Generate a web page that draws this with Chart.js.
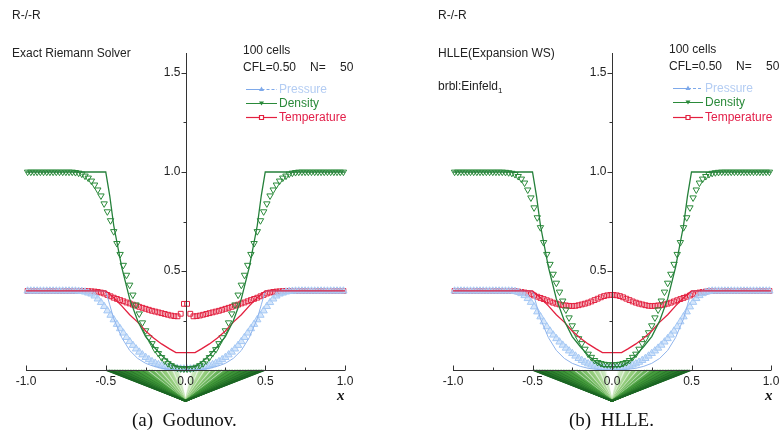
<!DOCTYPE html>
<html>
<head>
<meta charset="utf-8">
<script src="https://cdn.jsdelivr.net/npm/chart.js@4.4.9/dist/chart.umd.min.js"></script>
<style>
  body { margin: 0; background: #fff; }
  #page { position: relative; width: 781px; height: 443px; overflow: hidden;
          font-family: "Liberation Sans", Arial, sans-serif; color: #222; }
  canvas { position: absolute; top: 0; }
  #leftChart { left: 0; }
  #rightChart { left: 390px; }
  .t { position: absolute; font-size: 12px; line-height: 12px; white-space: pre; }
  .cap { position: absolute; font-family: "Liberation Serif", "Times New Roman", serif;
         font-size: 19px; line-height: 19px; color: #111; white-space: pre; }
  .xlab { position: absolute; font-family: "Liberation Serif", serif; font-style: italic;
          font-weight: bold; font-size: 15px; line-height: 15px; color: #111; }
</style>
</head>
<body>
<div id="page">
  <canvas id="leftChart" width="390" height="443"></canvas>
  <canvas id="rightChart" width="391" height="443"></canvas>

  <div class="t" style="left:12px;top:9px;">R-/-R</div>
  <div class="t" style="left:12px;top:47px;">Exact Riemann Solver</div>
  <div class="t" style="left:243px;top:44px;">100 cells</div>
  <div class="t" style="left:243px;top:61px;">CFL=0.50</div>
  <div class="t" style="left:310px;top:61px;">N=</div>
  <div class="t" style="left:340px;top:61px;">50</div>
  <div class="t" style="left:279px;top:83px;color:#b4cdf3;">Pressure</div>
  <div class="t" style="left:279px;top:97px;color:#2a8a3a;">Density</div>
  <div class="t" style="left:279px;top:111px;color:#e3204a;">Temperature</div>
  <div class="xlab" style="left:337px;top:388px;">x</div>
  <div class="cap" style="left:132px;top:410px;">(a)  Godunov.</div>

  <div class="t" style="left:438px;top:9px;">R-/-R</div>
  <div class="t" style="left:438px;top:47px;">HLLE(Expansion WS)</div>
  <div class="t" style="left:438px;top:80px;">brbl:Einfeld<sub style="font-size:8px;">1</sub></div>
  <div class="t" style="left:669px;top:43px;">100 cells</div>
  <div class="t" style="left:669px;top:60px;">CFL=0.50</div>
  <div class="t" style="left:736px;top:60px;">N=</div>
  <div class="t" style="left:766px;top:60px;">50</div>
  <div class="t" style="left:705px;top:82px;color:#b4cdf3;">Pressure</div>
  <div class="t" style="left:705px;top:96px;color:#2a8a3a;">Density</div>
  <div class="t" style="left:705px;top:111px;color:#e3204a;">Temperature</div>
  <div class="xlab" style="left:765px;top:388px;">x</div>
  <div class="cap" style="left:569px;top:410px;">(b)  HLLE.</div>
</div>

<script>
// cell centres, 100 cells on [-1, 1]
const cellX = [
  -0.99, -0.97, -0.95, -0.93, -0.91, -0.89, -0.87, -0.85, -0.83, -0.81,
  -0.79, -0.77, -0.75, -0.73, -0.71, -0.69, -0.67, -0.65, -0.63, -0.61,
  -0.59, -0.57, -0.55, -0.53, -0.51, -0.49, -0.47, -0.45, -0.43, -0.41,
  -0.39, -0.37, -0.35, -0.33, -0.31, -0.29, -0.27, -0.25, -0.23, -0.21,
  -0.19, -0.17, -0.15, -0.13, -0.11, -0.09, -0.07, -0.05, -0.03, -0.01,
  0.01, 0.03, 0.05, 0.07, 0.09, 0.11, 0.13, 0.15, 0.17, 0.19,
  0.21, 0.23, 0.25, 0.27, 0.29, 0.31, 0.33, 0.35, 0.37, 0.39,
  0.41, 0.43, 0.45, 0.47, 0.49, 0.51, 0.53, 0.55, 0.57, 0.59,
  0.61, 0.63, 0.65, 0.67, 0.69, 0.71, 0.73, 0.75, 0.77, 0.79,
  0.81, 0.83, 0.85, 0.87, 0.89, 0.91, 0.93, 0.95, 0.97, 0.99
];

// (a) Godunov
const godDensity = [
  1, 1, 1, 1, 1, 1, 1, 1, 1, 1,
  1, 1, 1, 1, 1, 0.998, 0.995, 0.99, 0.98, 0.97,
  0.955, 0.935, 0.91, 0.88, 0.84, 0.80, 0.755, 0.70, 0.64, 0.585,
  0.53, 0.48, 0.43, 0.38, 0.33, 0.285, 0.24, 0.20, 0.165, 0.135,
  0.105, 0.085, 0.065, 0.048, 0.034, 0.024, 0.016, 0.011, 0.008, 0.007,
  0.007, 0.008, 0.011, 0.016, 0.024, 0.034, 0.048, 0.065, 0.085, 0.105,
  0.135, 0.165, 0.20, 0.24, 0.285, 0.33, 0.38, 0.43, 0.48, 0.53,
  0.585, 0.64, 0.70, 0.755, 0.80, 0.84, 0.88, 0.91, 0.935, 0.955,
  0.97, 0.98, 0.99, 0.995, 0.998, 1, 1, 1, 1, 1,
  1, 1, 1, 1, 1, 1, 1, 1, 1, 1
];
const godTemperature = [
  0.4, 0.4, 0.4, 0.4, 0.4, 0.4, 0.4, 0.4, 0.4, 0.4,
  0.4, 0.4, 0.4, 0.4, 0.4, 0.4, 0.4, 0.4, 0.4, 0.399,
  0.398, 0.397, 0.395, 0.392, 0.387, 0.38, 0.373, 0.366, 0.36, 0.354,
  0.348, 0.342, 0.337, 0.331, 0.326, 0.32, 0.315, 0.31, 0.305, 0.3,
  0.296, 0.292, 0.288, 0.284, 0.28, 0.276, 0.273, 0.272, 0.285, 0.335,
  0.335, 0.285, 0.272, 0.273, 0.276, 0.28, 0.284, 0.288, 0.292, 0.296,
  0.3, 0.305, 0.31, 0.315, 0.32, 0.326, 0.331, 0.337, 0.342, 0.348,
  0.354, 0.36, 0.366, 0.373, 0.38, 0.387, 0.392, 0.395, 0.397, 0.398,
  0.399, 0.4, 0.4, 0.4, 0.4, 0.4, 0.4, 0.4, 0.4, 0.4,
  0.4, 0.4, 0.4, 0.4, 0.4, 0.4, 0.4, 0.4, 0.4, 0.4
];
const godPressure = [
  0.4, 0.4, 0.4, 0.4, 0.4, 0.4, 0.4, 0.4, 0.4, 0.4,
  0.4, 0.4, 0.4, 0.4, 0.4, 0.4, 0.399, 0.398, 0.395, 0.39,
  0.385, 0.375, 0.36, 0.342, 0.322, 0.30, 0.278, 0.255, 0.232, 0.21,
  0.188, 0.166, 0.145, 0.126, 0.108, 0.092, 0.078, 0.065, 0.054, 0.044,
  0.036, 0.029, 0.023, 0.018, 0.014, 0.011, 0.009, 0.008, 0.007, 0.007,
  0.007, 0.007, 0.008, 0.009, 0.011, 0.014, 0.018, 0.023, 0.029, 0.036,
  0.044, 0.054, 0.065, 0.078, 0.092, 0.108, 0.126, 0.145, 0.166, 0.188,
  0.21, 0.232, 0.255, 0.278, 0.30, 0.322, 0.342, 0.36, 0.375, 0.385,
  0.39, 0.395, 0.398, 0.399, 0.4, 0.4, 0.4, 0.4, 0.4, 0.4,
  0.4, 0.4, 0.4, 0.4, 0.4, 0.4, 0.4, 0.4, 0.4, 0.4
];

// (b) HLLE
const hlleDensity = [
  1, 1, 1, 1, 1, 1, 1, 1, 1, 1,
  1, 1, 1, 1, 1, 1, 0.999, 0.997, 0.994, 0.988,
  0.978, 0.965, 0.945, 0.91, 0.87, 0.82, 0.77, 0.72, 0.645, 0.585,
  0.535, 0.485, 0.44, 0.395, 0.35, 0.305, 0.265, 0.225, 0.19, 0.16,
  0.135, 0.107, 0.082, 0.066, 0.05, 0.04, 0.035, 0.031, 0.029, 0.028,
  0.028, 0.029, 0.031, 0.035, 0.04, 0.05, 0.066, 0.082, 0.107, 0.135,
  0.16, 0.19, 0.225, 0.265, 0.305, 0.35, 0.395, 0.44, 0.485, 0.535,
  0.585, 0.645, 0.72, 0.77, 0.82, 0.87, 0.91, 0.945, 0.965, 0.978,
  0.988, 0.994, 0.997, 0.999, 1, 1, 1, 1, 1, 1,
  1, 1, 1, 1, 1, 1, 1, 1, 1, 1
];
const hlleTemperature = [
  0.4, 0.4, 0.4, 0.4, 0.4, 0.4, 0.4, 0.4, 0.4, 0.4,
  0.4, 0.4, 0.4, 0.4, 0.4, 0.4, 0.4, 0.4, 0.4, 0.399,
  0.397, 0.395, 0.392, 0.388, 0.383, 0.377, 0.371, 0.365, 0.359, 0.353,
  0.347, 0.341, 0.336, 0.332, 0.329, 0.327, 0.325, 0.324, 0.325, 0.328,
  0.332, 0.336, 0.341, 0.347, 0.354, 0.361, 0.368, 0.374, 0.378, 0.38,
  0.38, 0.378, 0.374, 0.368, 0.361, 0.354, 0.347, 0.341, 0.336, 0.332,
  0.328, 0.325, 0.324, 0.325, 0.327, 0.329, 0.332, 0.336, 0.341, 0.347,
  0.353, 0.359, 0.365, 0.371, 0.377, 0.383, 0.388, 0.392, 0.395, 0.397,
  0.399, 0.4, 0.4, 0.4, 0.4, 0.4, 0.4, 0.4, 0.4, 0.4,
  0.4, 0.4, 0.4, 0.4, 0.4, 0.4, 0.4, 0.4, 0.4, 0.4
];
const hllePressure = [
  0.4, 0.4, 0.4, 0.4, 0.4, 0.4, 0.4, 0.4, 0.4, 0.4,
  0.4, 0.4, 0.4, 0.4, 0.4, 0.4, 0.4, 0.4, 0.4, 0.398,
  0.394, 0.387, 0.377, 0.362, 0.343, 0.32, 0.295, 0.27, 0.245, 0.22,
  0.198, 0.178, 0.16, 0.143, 0.127, 0.112, 0.098, 0.085, 0.072, 0.06,
  0.05, 0.041, 0.033, 0.027, 0.022, 0.018, 0.015, 0.013, 0.012, 0.012,
  0.012, 0.012, 0.013, 0.015, 0.018, 0.022, 0.027, 0.033, 0.041, 0.05,
  0.06, 0.072, 0.085, 0.098, 0.112, 0.127, 0.143, 0.16, 0.178, 0.198,
  0.22, 0.245, 0.27, 0.295, 0.32, 0.343, 0.362, 0.377, 0.387, 0.394,
  0.398, 0.4, 0.4, 0.4, 0.4, 0.4, 0.4, 0.4, 0.4, 0.4,
  0.4, 0.4, 0.4, 0.4, 0.4, 0.4, 0.4, 0.4, 0.4, 0.4
];

// exact solution (solid lines), same in both panels
const exactX = [-1, -0.5, -0.475, -0.45, -0.4, -0.35, -0.3, -0.25, -0.2, -0.15, -0.1, -0.06, -0.05, 0,
                0.05, 0.06, 0.1, 0.15, 0.2, 0.25, 0.3, 0.35, 0.4, 0.45, 0.475, 0.5, 1];
const exactDensity = [1, 1, 0.88, 0.73, 0.52, 0.36, 0.25, 0.17, 0.12, 0.075, 0.04, 0.02, 0.018, 0.018,
                      0.018, 0.02, 0.04, 0.075, 0.12, 0.17, 0.25, 0.36, 0.52, 0.73, 0.88, 1, 1];
const exactTemperature = [0.4, 0.4, 0.383, 0.366, 0.325, 0.28, 0.243, 0.198, 0.163, 0.133, 0.108, 0.089, 0.089, 0.089,
                          0.089, 0.089, 0.108, 0.133, 0.163, 0.198, 0.243, 0.28, 0.325, 0.366, 0.383, 0.4, 0.4];
const exactPressure = [0.4, 0.4, 0.33, 0.26, 0.165, 0.1, 0.06, 0.035, 0.02, 0.01, 0.005, 0.002, 0.002, 0.002,
                       0.002, 0.002, 0.005, 0.01, 0.02, 0.035, 0.06, 0.1, 0.165, 0.26, 0.33, 0.4, 0.4];

// wave fan under the axis: rays from the apex to +/- each foot position on the x axis
const fanApexY = -0.155;
const fanFootX = [
  0.5, 0.49, 0.48, 0.47, 0.46, 0.45, 0.44, 0.43, 0.42, 0.41,
  0.4, 0.39, 0.38, 0.37, 0.36, 0.35, 0.34, 0.33, 0.32, 0.31,
  0.3, 0.29, 0.28, 0.27, 0.26, 0.25, 0.24, 0.23, 0.22, 0.21,
  0.2, 0.19, 0.18, 0.17, 0.16, 0.15, 0.14, 0.13, 0.12, 0.11,
  0.1, 0.09, 0.08, 0.07, 0.06, 0.05, 0.04
];

const xMajor = [-1, -0.5, 0, 0.5, 1];
const xMinor = [-0.75, -0.25, 0.25, 0.75];
const xTickLabels = ["-1.0", "-0.5", "0.0", "0.5", "1.0"];
const yMajor = [0.5, 1.0, 1.5];
const yMinor = [0.25, 0.75, 1.25];
const yTickLabels = ["0.5", "1.0", "1.5"];

const GREEN = "#2a8a3a";
const RED = "#e3203f";
const BLUE = "#a5c8f4";

const pts = (xs, ys) => xs.map((x, i) => ({ x: x, y: ys[i] }));

// ray shade: dark green outside, bright green in the middle, pale green near the centre
function rayShade(w, i) {
  const t = Math.min(1, Math.max(0, (0.5 - w) / 0.46));
  const stops = [[0, [28, 106, 36]], [0.45, [70, 160, 62]], [0.8, [150, 205, 125]], [1, [215, 238, 205]]];
  let k = 0;
  while (k < stops.length - 2 && t > stops[k + 1][0]) k++;
  const [t0, c0] = stops[k], [t1, c1] = stops[k + 1];
  const f = (t - t0) / (t1 - t0);
  let c = c0.map((v, j) => v + (c1[j] - v) * f);
  if (i % 4 === 2) c = c.map(v => t > 0.55 ? v + (255 - v) * 0.6 : v * 0.8);
  return "rgb(" + c.map(Math.round).join(",") + ")";
}

function panelDatasets(dens, temp, pres) {
  const sets = [];
  fanFootX.forEach((w, i) => {
    [-w, w].forEach(fx => {
      sets.push({ data: [{ x: 0, y: fanApexY }, { x: fx, y: 0 }], fill: false, pointRadius: 0,
                  borderWidth: i === 0 ? 1.2 : 1.8, borderColor: i === 0 ? "#1a6423" : rayShade(w, i),
                  borderCapStyle: "butt", order: 40 + i });
    });
  });
  sets.push({ data: pts(cellX, temp), showLine: false, pointStyle: "rect", pointRadius: 3.4,
              borderColor: RED, backgroundColor: "rgba(255,255,255,0)", pointBorderWidth: 1, order: 8 });
  sets.push({ data: pts(cellX, pres), showLine: false, pointStyle: "triangle", pointRadius: 4.2,
              borderColor: BLUE, backgroundColor: "rgba(185,214,248,0.6)", pointBorderWidth: 1, order: 7 });
  sets.push({ data: pts(cellX, dens), showLine: false, pointStyle: "triangle", rotation: 180, pointRadius: 3.7,
              borderColor: GREEN, backgroundColor: "rgba(255,255,255,0)", pointBorderWidth: 1, order: 6 });
  sets.push({ data: pts(exactX, exactPressure), borderColor: "#8fb4ec", borderWidth: 1, pointRadius: 0, fill: false, order: 3 });
  sets.push({ data: pts(exactX, exactTemperature), borderColor: RED, borderWidth: 1.3, pointRadius: 0, fill: false, order: 2 });
  sets.push({ data: pts(exactX, exactDensity), borderColor: "#24803a", borderWidth: 1.3, pointRadius: 0, fill: false, order: 1 });
  return sets;
}

const axesPlugin = {
  id: "centerAxes",
  afterDatasetsDraw(chart) {
    const { ctx } = chart;
    const xs = chart.scales.x, ys = chart.scales.y;
    const x0 = Math.round(xs.getPixelForValue(0)) + 0.5;
    const y0 = Math.round(ys.getPixelForValue(0)) + 0.5;
    ctx.save();
    ctx.strokeStyle = "#333";
    ctx.lineWidth = 1;
    ctx.beginPath();
    ctx.moveTo(xs.getPixelForValue(-1), y0);
    ctx.lineTo(xs.getPixelForValue(1), y0);
    ctx.moveTo(x0, y0);
    ctx.lineTo(x0, ys.getPixelForValue(1.6));
    xMajor.forEach(v => { const p = Math.round(xs.getPixelForValue(v)) + 0.5; ctx.moveTo(p, y0); ctx.lineTo(p, y0 - 5); });
    xMinor.forEach(v => { const p = Math.round(xs.getPixelForValue(v)) + 0.5; ctx.moveTo(p, y0); ctx.lineTo(p, y0 - 3); });
    yMajor.forEach(v => { const p = Math.round(ys.getPixelForValue(v)) + 0.5; ctx.moveTo(x0, p); ctx.lineTo(x0 - 5, p); });
    yMinor.forEach(v => { const p = Math.round(ys.getPixelForValue(v)) + 0.5; ctx.moveTo(x0, p); ctx.lineTo(x0 - 3, p); });
    ctx.stroke();
    ctx.fillStyle = "#222";
    ctx.font = '12px "Liberation Sans", Arial, sans-serif';
    ctx.textBaseline = "middle";
    ctx.textAlign = "center";
    xMajor.forEach((v, i) => ctx.fillText(xTickLabels[i], xs.getPixelForValue(v), y0 + 11));
    ctx.textAlign = "right";
    yMajor.forEach((v, i) => ctx.fillText(yTickLabels[i], x0 - 6, ys.getPixelForValue(v)));
    ctx.restore();
  }
};

// line + marker samples next to the legend texts
const legendPlugin = {
  id: "sampleLegend",
  afterDraw(chart, args, opts) {
    if (!opts || opts.x1 === undefined) return;
    const ctx = chart.ctx;
    const xm = (opts.x1 + opts.x2) / 2;
    ctx.save();
    ctx.lineWidth = 1;
    // pressure
    ctx.strokeStyle = "#7ea9ea";
    ctx.beginPath(); ctx.moveTo(opts.x1, opts.ys[0] + 0.5); ctx.lineTo(xm, opts.ys[0] + 0.5); ctx.stroke();
    ctx.setLineDash([3, 2]);
    ctx.beginPath(); ctx.moveTo(xm, opts.ys[0] + 0.5); ctx.lineTo(opts.x2, opts.ys[0] + 0.5); ctx.stroke();
    ctx.setLineDash([]);
    ctx.fillStyle = "#7ea9ea";
    ctx.beginPath(); ctx.moveTo(xm, opts.ys[0] - 2.5); ctx.lineTo(xm + 2.5, opts.ys[0] + 2); ctx.lineTo(xm - 2.5, opts.ys[0] + 2); ctx.closePath(); ctx.fill();
    // density
    ctx.strokeStyle = GREEN;
    ctx.beginPath(); ctx.moveTo(opts.x1, opts.ys[1] + 0.5); ctx.lineTo(opts.x2, opts.ys[1] + 0.5); ctx.stroke();
    ctx.fillStyle = GREEN;
    ctx.beginPath(); ctx.moveTo(xm - 2.5, opts.ys[1] - 1.5); ctx.lineTo(xm + 2.5, opts.ys[1] - 1.5); ctx.lineTo(xm, opts.ys[1] + 2.5); ctx.closePath(); ctx.fill();
    // temperature
    ctx.strokeStyle = RED;
    ctx.lineWidth = 1.2;
    ctx.fillStyle = "#fff";
    ctx.beginPath(); ctx.moveTo(opts.x1, opts.ys[2] + 0.5); ctx.lineTo(opts.x2, opts.ys[2] + 0.5); ctx.stroke();
    ctx.beginPath(); ctx.rect(xm - 2, opts.ys[2] - 1.5, 4, 4); ctx.fill(); ctx.stroke();
    ctx.restore();
  }
};

function makePanel(canvasId, dens, temp, pres, padding, legendOpts) {
  return new Chart(document.getElementById(canvasId), {
    type: "line",
    data: { datasets: panelDatasets(dens, temp, pres) },
    options: {
      responsive: false,
      animation: false,
      events: [],
      layout: { padding: padding },
      elements: { line: { tension: 0 } },
      datasets: { line: { clip: false } },
      scales: {
        x: { type: "linear", min: -1, max: 1, display: false },
        y: { type: "linear", min: -0.16, max: 1.6, display: false }
      },
      plugins: {
        legend: { display: false },
        tooltip: { enabled: false },
        sampleLegend: legendOpts
      }
    },
    plugins: [axesPlugin, legendPlugin]
  });
}

makePanel("leftChart", godDensity, godTemperature, godPressure,
  { left: 26, right: 45, top: 53, bottom: 41 },
  { x1: 246, x2: 277, ys: [89, 103, 117] });
makePanel("rightChart", hlleDensity, hlleTemperature, hllePressure,
  { left: 63, right: 10, top: 53, bottom: 41 },
  { x1: 283, x2: 313, ys: [88, 102, 117] });
</script>
</body>
</html>
